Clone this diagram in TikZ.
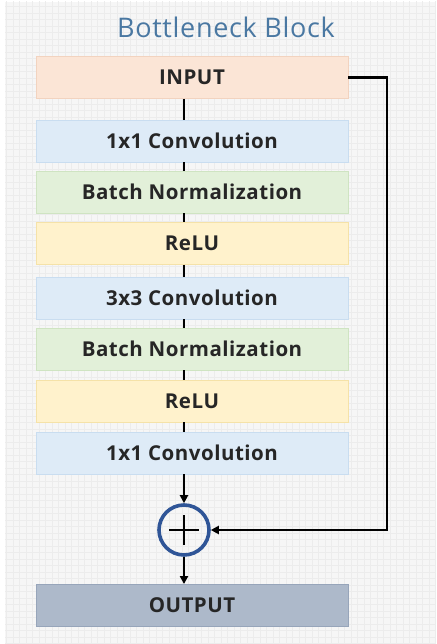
\documentclass[tikz,border=0pt]{standalone}
\usepackage{fontspec}
\setmainfont{Open Sans}
\newfontfamily\spacedfont[LetterSpace=2.5]{Open Sans}
\usetikzlibrary{arrows.meta,calc}

\definecolor{bgpaper}{HTML}{F6F6F6}
\definecolor{bggrid}{HTML}{ECECEC}
\definecolor{titleblue}{HTML}{4A78A2}
\definecolor{inputfill}{HTML}{FBE5D6}
\definecolor{inputline}{HTML}{F2D3BF}
\definecolor{convfill}{HTML}{DEEBF7}
\definecolor{convline}{HTML}{C9DDF0}
\definecolor{bnfill}{HTML}{E2F0D9}
\definecolor{bnline}{HTML}{CFE4C2}
\definecolor{relufill}{HTML}{FFF2CC}
\definecolor{reluline}{HTML}{F5E2A8}
\definecolor{outfill}{HTML}{ADB9CA}
\definecolor{outline}{HTML}{97A5BA}
\definecolor{ringblue}{HTML}{2F5597}
\definecolor{labeltext}{HTML}{262626}

\tikzset{
  x=1pt, y=-1pt,
  layer/.style={minimum width=312pt, minimum height=42pt, inner sep=0pt,
    line width=0.9pt, font=\spacedfont\fontsize{20.5}{24}\selectfont\bfseries,
    text=labeltext},
  inbox/.style={layer, fill=inputfill, draw=inputline},
  convbox/.style={layer, fill=convfill, draw=convline},
  bnbox/.style={layer, fill=bnfill, draw=bnline},
  relubox/.style={layer, fill=relufill, draw=reluline},
  outbox/.style={layer, fill=outfill, draw=outline},
  link/.style={line width=2.6pt, black},
  flow/.style={link, -{Triangle[length=8pt,width=8pt]}},
  sumring/.style={circle, minimum size=50pt, inner sep=0pt,
    draw=ringblue, line width=3.6pt, fill=none},
}

\begin{document}
\begin{tikzpicture}
  % paper and faint grid
  \useasboundingbox (0,0) rectangle (436,644);
  \fill[white] (0,0) rectangle (436,644);
  \fill[bgpaper] (5,2) rectangle (436,644);
  \begin{scope}
    \clip (5,2) rectangle (436,644);
    \foreach \g in {0,6.5,...,650} {
      \draw[bggrid, line width=0.3pt] (\g,0) -- (\g,644);
      \draw[bggrid, line width=0.3pt] (0,\g) -- (436,\g);
    }
  \end{scope}

  % title
  \node[text=titleblue, font=\spacedfont\fontsize{27}{31}\selectfont] (title) at (226,27) {Bottleneck Block};

  % layer stack
  \node[inbox]   (input) at (192,77.5)  {INPUT};
  \node[convbox] (conva) at (192,141)   {1x1 Convolution};
  \node[bnbox]   (bna)   at (192,192)   {Batch Normalization};
  \node[relubox] (relua) at (192,243.5) {ReLU};
  \node[convbox] (convb) at (192,298)   {3x3 Convolution};
  \node[bnbox]   (bnb)   at (192,349)   {Batch Normalization};
  \node[relubox] (relub) at (192,401)   {ReLU};
  \node[convbox] (convc) at (192,453)   {1x1 Convolution};
  \node[sumring] (sum)   at (184,530)   {};
  \node[outbox]  (output) at (192,605.5) {OUTPUT};

  % plus sign inside the adder
  \draw[link, line width=2.8pt] ([xshift=-15pt]sum.center) -- ([xshift=15pt]sum.center);
  \draw[link, line width=2.8pt] ([yshift=-15pt]sum.center) -- ([yshift=15pt]sum.center);

  % short links between stacked layers
  \foreach \a/\b in {input/conva, conva/bna, bna/relua, relua/convb,
                     convb/bnb, bnb/relub, relub/convc} {
    \draw[link] ([xshift=-8pt]\a.south) -- ([xshift=-8pt]\b.north);
  }

  % main path into and out of the adder
  \draw[flow] ([xshift=-8pt]convc.south) -- (sum.north);
  \draw[flow] (sum.south) -- ([xshift=-8pt]output.north);

  % identity shortcut
  \coordinate (skip) at (387,77.5);
  \draw[flow] (input.east) -- (skip) |- (sum.east);
\end{tikzpicture}
\end{document}
